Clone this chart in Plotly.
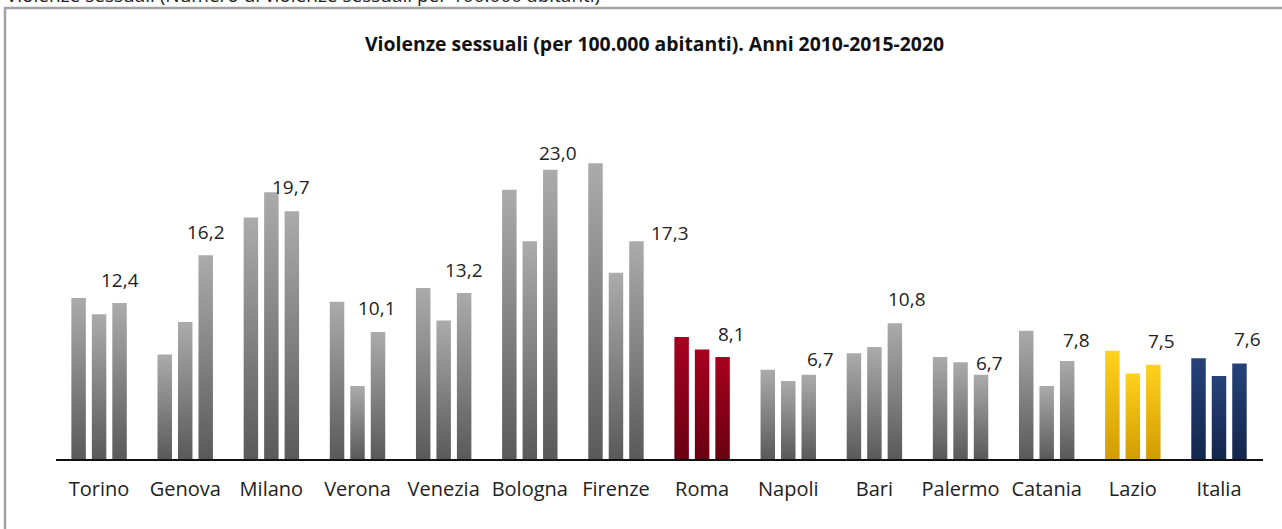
import json
import plotly.graph_objects as go

# ---- data ----
cities = ["Torino", "Genova", "Milano", "Verona", "Venezia", "Bologna", "Firenze",
          "Roma", "Napoli", "Bari", "Palermo", "Catania", "Lazio", "Italia"]
v2010 = [12.8, 8.3, 19.2, 12.5, 13.6, 21.4, 23.5, 9.7, 7.1, 8.4, 8.1, 10.2, 8.6, 8.0]
v2015 = [11.5, 10.9, 21.2, 5.8, 11.0, 17.3, 14.8, 8.7, 6.2, 8.9, 7.7, 5.8, 6.8, 6.6]
v2020 = [12.4, 16.2, 19.7, 10.1, 13.2, 23.0, 17.3, 8.1, 6.7, 10.8, 6.7, 7.8, 7.5, 7.6]
years = ["2010", "2015", "2020"]

# ---- styles ----
grey = "#848484"
special_colors = {"Roma": "#8e0a1c", "Lazio": "#f2bc05", "Italia": "#1c3363"}
bar_colors = [special_colors.get(c, grey) for c in cities]
# vertical gradient (top, bottom) applied to each bar colour
gradients = {
    grey: ("#ababab", "#5a5a5a"),
    "#8e0a1c": ("#a8001f", "#690010"),
    "#f2bc05": ("#ffd21c", "#d29c00"),
    "#1c3363": ("#25427a", "#14274c"),
}

# label offsets (pixels) for the 2020 data labels: (dx, dy)
label_dx = [0, 0, -1, -1, 0, 8, 34, 9, 12, 12, 8, 9, 8, 8]
label_dy = [23, 23, 24, 24, 23, 17, 8, 23, 16, 24, 12, 21, 24, 24]

W, H = 1282, 529
L, R, T, B = 56, 19, 100, 70
PW, PH = W - L - R, H - T - B
PX_PER_UNIT = 12.58

def px_x(px):  # pixel -> paper
    return (px - L) / PW

def px_y(py):
    return (H - B - py) / PH

FONT = "Open Sans"

fig = go.Figure()
for yr, vals in zip(years, [v2010, v2015, v2020]):
    fig.add_trace(go.Bar(
        x=cities, y=vals, name=yr,
        marker=dict(color=bar_colors, line=dict(width=0)),
        hoverinfo="skip",
    ))

annotations = []
for i, (c, v) in enumerate(zip(cities, v2020)):
    annotations.append(dict(
        x=c, y=v, xref="x", yref="y",
        text=f"{v:.1f}".replace(".", ","),
        showarrow=False, xanchor="center", yanchor="middle",
        xshift=20.5 + label_dx[i], yshift=label_dy[i],
        font=dict(family=FONT, size=19, color="#222222"),
    ))

# chart title
annotations.append(dict(
    x=px_x(654), y=px_y(44), xref="paper", yref="paper",
    text="<b>Violenze sessuali (per 100.000 abitanti). Anni 2010-2015-2020</b>",
    showarrow=False, xanchor="center", yanchor="middle",
    font=dict(family=FONT, size=19.4, color="#111111"),
))
# partially cropped text at the very top
annotations.append(dict(
    x=px_x(4), y=px_y(-5), xref="paper", yref="paper",
    text="Violenze sessuali (Numero di violenze sessuali per 100.000 abitanti)",
    showarrow=False, xanchor="left", yanchor="middle",
    font=dict(family=FONT, size=19, color="#222222"),
))

shapes = [dict(
    type="rect", xref="paper", yref="paper",
    x0=px_x(5), x1=px_x(1320), y0=px_y(580), y1=px_y(8),
    line=dict(color="#a3a3a3", width=2.5), fillcolor="rgba(0,0,0,0)",
    layer="below",
)]

fig.update_layout(
    width=W, height=H,
    margin=dict(l=L, r=R, t=T, b=B),
    paper_bgcolor="white", plot_bgcolor="white",
    barmode="group", bargap=0.287, bargroupgap=0.293,
    showlegend=False,
    annotations=annotations,
    shapes=shapes,
    font=dict(family=FONT, size=19, color="#222222"),
)
fig.update_xaxes(
    showline=True, linecolor="#111111", linewidth=2,
    showgrid=False, ticks="", tickfont=dict(family=FONT, size=20, color="#222222"),
    ticklabelstandoff=11, fixedrange=True,
)
fig.update_yaxes(
    range=[0, PH / PX_PER_UNIT], visible=False, showgrid=False,
    zeroline=False, fixedrange=True,
)

def hex_to_rgb(h):
    h = h.lstrip("#")
    return "rgb(%d,%d,%d)" % (int(h[0:2], 16), int(h[2:4], 16), int(h[4:6], 16))

grad_map = {hex_to_rgb(k): v for k, v in gradients.items()}

post_script = """
(function(){
  document.body.style.margin = '0';
  document.body.style.overflow = 'hidden';
  var gd = document.getElementById('{plot_id}');
  var gmap = %s;
  function apply(){
    var svg = gd.querySelector('svg.main-svg');
    if(!svg) return;
    var ns = 'http://www.w3.org/2000/svg';
    var defs = svg.querySelector('defs');
    if(!defs){ defs = document.createElementNS(ns,'defs'); svg.insertBefore(defs, svg.firstChild); }
    var ids = {}; var n = 0;
    Object.keys(gmap).forEach(function(k){
      var id = 'bargrad' + (n++);
      ids[k] = id;
      if(document.getElementById(id)) return;
      var lg = document.createElementNS(ns,'linearGradient');
      lg.setAttribute('id', id);
      lg.setAttribute('x1','0'); lg.setAttribute('y1','0');
      lg.setAttribute('x2','0'); lg.setAttribute('y2','1');
      var s1 = document.createElementNS(ns,'stop');
      s1.setAttribute('offset','0'); s1.setAttribute('stop-color', gmap[k][0]);
      var s2 = document.createElementNS(ns,'stop');
      s2.setAttribute('offset','1'); s2.setAttribute('stop-color', gmap[k][1]);
      lg.appendChild(s1); lg.appendChild(s2); defs.appendChild(lg);
    });
    gd.querySelectorAll('.barlayer .point path').forEach(function(p){
      var f = (p.style.fill || '').replace(/\\s/g,'');
      if(ids[f]) p.style.fill = 'url(#' + ids[f] + ')';
    });
  }
  apply();
  gd.on && gd.on('plotly_afterplot', apply);
})();
""" % json.dumps(grad_map)

fig.write_html("out.html", config={"displayModeBar": False}, post_script=post_script)
